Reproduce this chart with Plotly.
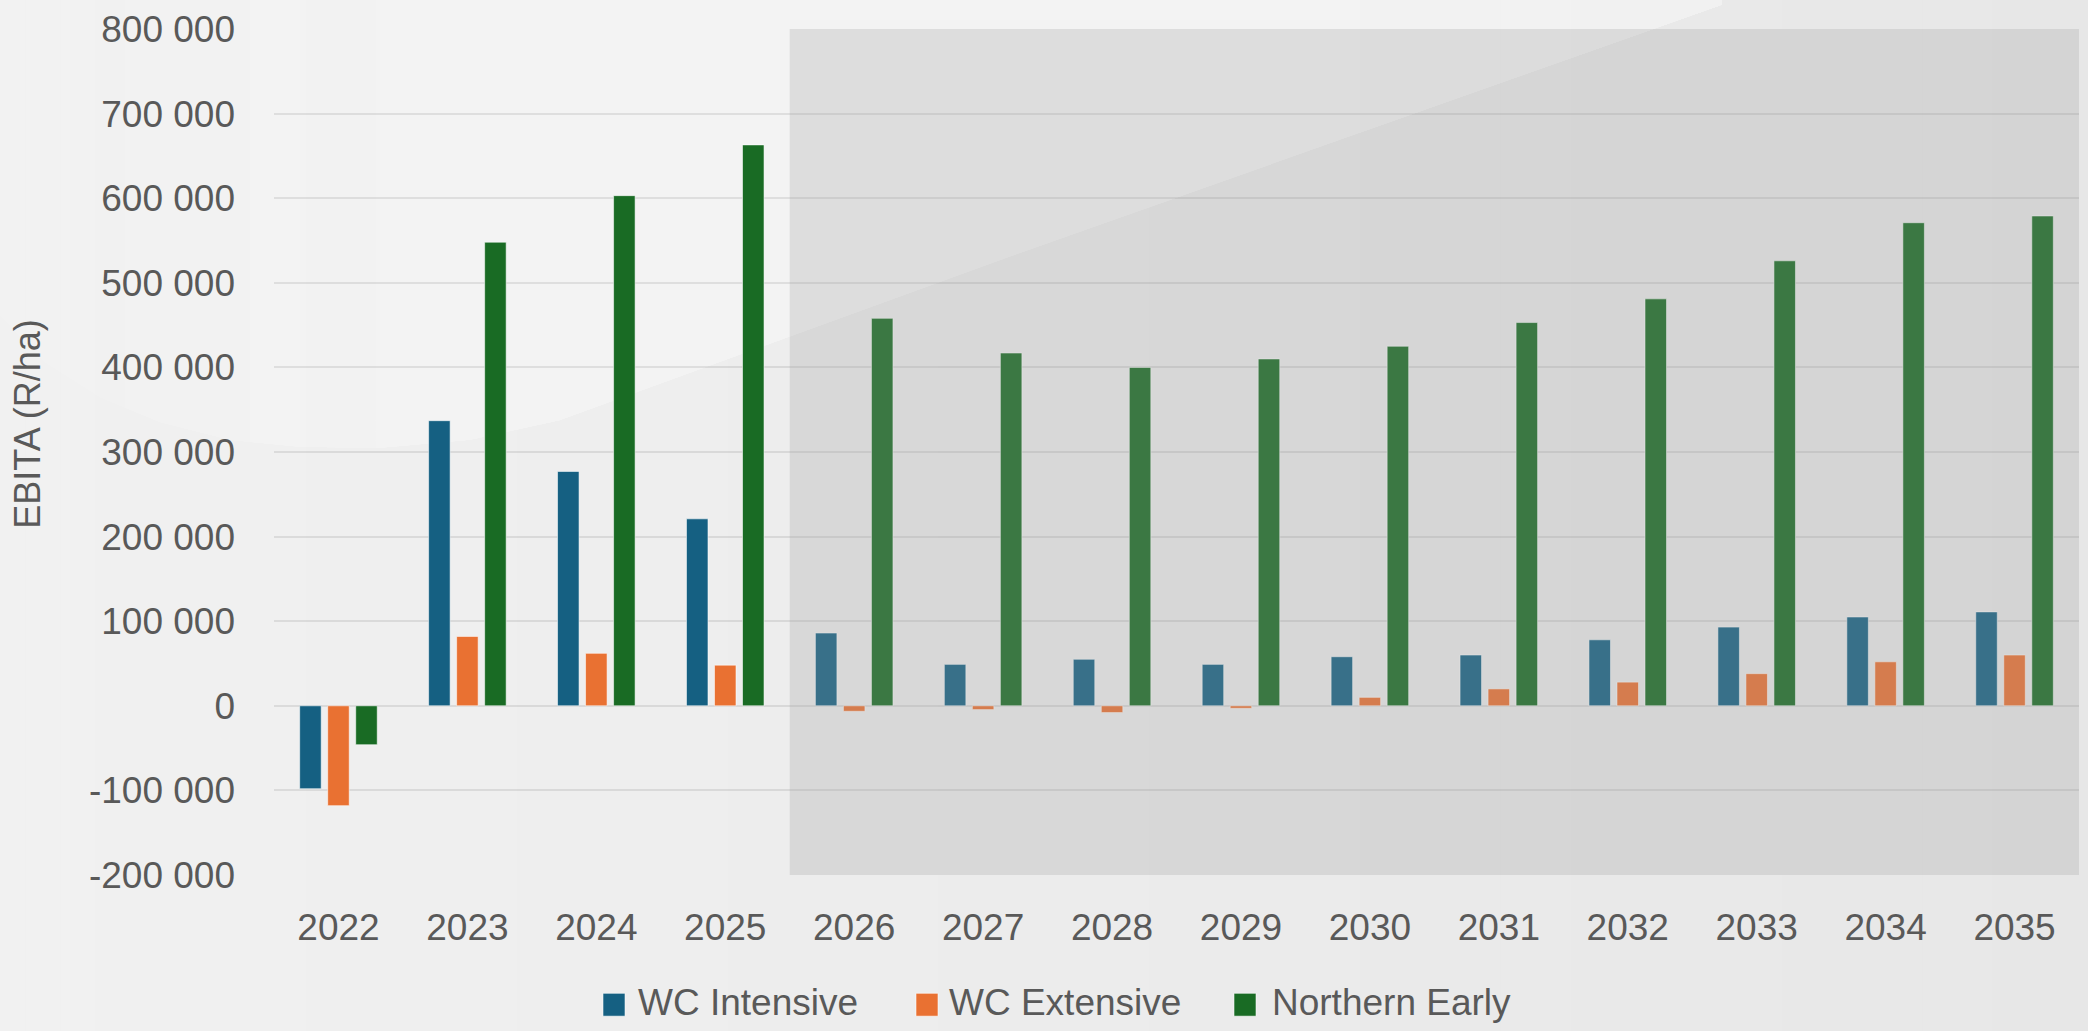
import plotly.graph_objects as go

# ---------------- data ----------------
years = ["2022", "2023", "2024", "2025", "2026", "2027", "2028",
         "2029", "2030", "2031", "2032", "2033", "2034", "2035"]
series_names = ["WC Intensive", "WC Extensive", "Northern Early"]
wc_intensive = [-98000, 337000, 277000, 221000, 86000, 49000, 55000,
                49000, 58000, 60000, 78000, 93000, 105000, 111000]
wc_extensive = [-118000, 82000, 62000, 48000, -6500, -4500, -8000,
                -3000, 10000, 20000, 28000, 38000, 52000, 60000]
northern_early = [-46000, 548000, 603000, 663000, 458000, 417000, 400000,
                  410000, 425000, 453000, 481000, 526000, 571000, 579000]
y_tickvals = [-200000, -100000, 0, 100000, 200000, 300000, 400000,
              500000, 600000, 700000, 800000]
y_ticktext = ["-200 000", "-100 000", "0", "100 000", "200 000", "300 000",
              "400 000", "500 000", "600 000", "700 000", "800 000"]
y_title = "EBITA (R/ha)"
forecast_start = "2026"

colors = ["#156082", "#E97132", "#196B24"]
values = [wc_intensive, wc_extensive, northern_early]

# ---------------- layout geometry ----------------
W, H = 2088, 1031
L, R, T, B = 274, 2079, 24, 875


def px(X):
    return (X - L) / (R - L)


def py(Y):
    return (B - Y) / (B - T)


fig = go.Figure()
for name, vals, col in zip(series_names, values, colors):
    fig.add_trace(go.Bar(
        x=years, y=vals, name=name,
        marker=dict(color=col, line=dict(color="rgba(255,255,255,0.55)", width=1)),
        showlegend=False,
    ))

shapes = []
# background: horizontal gradient built from thin bands
n_bands = 60
c_left, c_right = 241, 231
for i in range(n_bands):
    x0 = -10 + i * (W + 20) / n_bands
    x1 = -10 + (i + 1) * (W + 20) / n_bands + 1
    c = round(c_left + (c_right - c_left) * (i + 0.5) / n_bands)
    shapes.append(dict(type="rect", xref="paper", yref="paper",
                       x0=px(x0), x1=px(x1), y0=py(H + 10), y1=py(-10),
                       fillcolor="rgb({0},{0},{0})".format(c), line=dict(width=0), layer="below"))

# light diagonal sweep: curve boundary (pixel space), stacked with a left-to-right alpha ramp
curve = [(1722, 0), (1000, 257), (560, 418), (470, 438), (380, 446), (300, 445),
         (230, 438), (160, 420), (100, 395), (45, 360), (0, 313)]


def curve_y(x):
    for (xa, ya), (xb, yb) in zip(curve[:-1], curve[1:]):
        if xb <= x <= xa:
            t = (x - xb) / (xa - xb) if xa != xb else 0
            return yb + t * (ya - yb)
    return curve[-1][1]


ramp_starts = [0, 125, 250, 375, 500, 625, 750, 875]
for xs in ramp_starts:
    pts = [(xs, -10), (1722, -10)] + [p for p in curve if p[0] > xs] + [(xs, curve_y(xs))]
    path = "M " + " L ".join("{:.5f},{:.5f}".format(px(a), py(b)) for a, b in pts) + " Z"
    shapes.append(dict(type="path", path=path, xref="paper", yref="paper",
                       fillcolor="rgba(255,255,255,0.075)", line=dict(width=0), layer="below"))

# forecast shaded overlay
idx = years.index(forecast_start)
shapes.append(dict(type="rect", xref="x", yref="y",
                   x0=idx - 0.5, x1=len(years) - 0.5,
                   y0=y_tickvals[0], y1=y_tickvals[-1],
                   fillcolor="rgba(160,160,160,0.26)", line=dict(width=0), layer="above"))

# custom legend
legend_swatch_x = [603, 916, 1234]
legend_text_x = [636, 947, 1270]
annotations = []
for i, name in enumerate(series_names):
    shapes.append(dict(type="rect", xref="paper", yref="paper",
                       x0=px(legend_swatch_x[i]), x1=px(legend_swatch_x[i] + 22),
                       y0=py(1017), y1=py(994),
                       fillcolor=colors[i], line=dict(color="rgba(255,255,255,0.55)", width=1)))
    annotations.append(dict(text=name, xref="paper", yref="paper",
                            x=px(legend_text_x[i]), y=py(1003), xanchor="left", yanchor="middle",
                            showarrow=False, font=dict(size=37, color="#595959")))

annotations.append(dict(text=y_title, xref="paper", yref="paper", textangle=-90,
                        x=px(28), y=py(421), xanchor="center", yanchor="middle",
                        showarrow=False, font=dict(size=36, color="#595959")))

fig.update_layout(
    width=W, height=H, autosize=False,
    margin=dict(l=L, r=W - R, t=T, b=H - B, pad=0),
    paper_bgcolor="#eeeeee",
    plot_bgcolor="rgba(0,0,0,0)",
    font=dict(family="Liberation Sans, Arial, sans-serif", color="#595959", size=37),
    barmode="group", bargap=0.348, bargroupgap=0.232,
    shapes=shapes, annotations=annotations,
    showlegend=False,
)
fig.update_xaxes(type="category", showgrid=False, zeroline=False, showline=False,
                 ticks="", tickfont=dict(size=37, color="#595959"), ticklabelstandoff=27)
fig.update_yaxes(range=[y_tickvals[0], y_tickvals[-1]], tickvals=y_tickvals, ticktext=y_ticktext,
                 showgrid=True, gridcolor="rgba(0,0,0,0.085)", gridwidth=2,
                 zeroline=False, showline=False, ticks="",
                 tickfont=dict(size=37, color="#595959"), ticklabelstandoff=38)

fig.write_html("out.html", config={"displayModeBar": False},
               post_script="document.body.style.margin='0';document.body.style.overflow='hidden';")
